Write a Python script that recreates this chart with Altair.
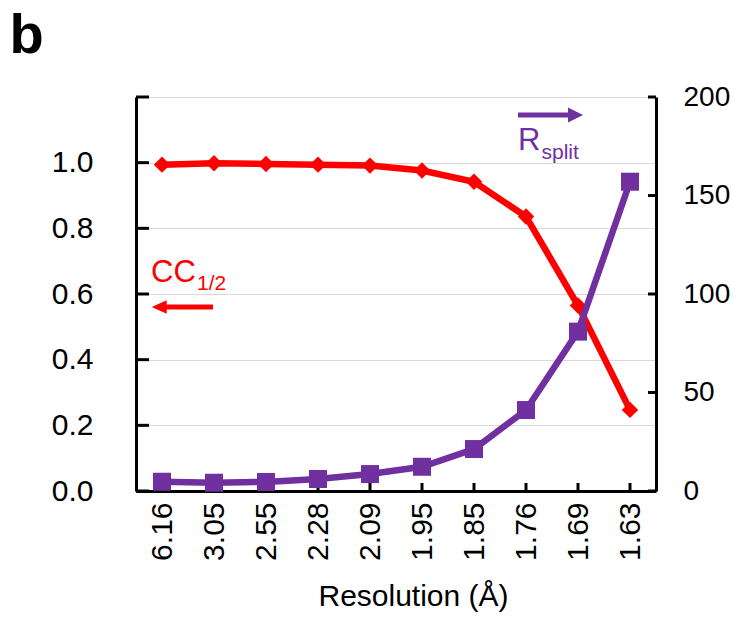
import altair as alt
import pandas as pd

# ---- data ----
resolution = ["6.16", "3.05", "2.55", "2.28", "2.09", "1.95", "1.85", "1.76", "1.69", "1.63"]
cc_half = [0.994, 0.998, 0.996, 0.994, 0.991, 0.976, 0.942, 0.836, 0.565, 0.247]
r_split = [4.7, 4.2, 4.6, 6.1, 8.6, 12.3, 21.3, 41.1, 80.9, 157.0]
left_ticks = [0.0, 0.2, 0.4, 0.6, 0.8, 1.0, 1.2]
right_ticks = [0, 50, 100, 150, 200]

RED = "#FF0000"
PURPLE = "#7030A0"
FONT = "Liberation Sans"
FS = 30
W, H = 520, 394

df = pd.DataFrame({"res": resolution, "cc": cc_half, "rs": r_split})
lt_df = pd.DataFrame({"v": left_ticks})
rt_df = pd.DataFrame({"v": right_ticks})
xt_df = pd.DataFrame({"res": resolution})

x_scale = alt.Scale(type="point", domain=resolution, padding=0.5)
x_axis = alt.Axis(
    title="Resolution (Å)", labelAngle=270, labelAlign="right", labelBaseline="middle",
    labelPadding=11, ticks=False, tickSize=0, domainColor="black", domainWidth=3,
    labelFontSize=FS, labelFont=FONT, labelColor="black", labelOverlap=False,
    titleFont=FONT, titleFontSize=FS, titleFontWeight="normal", titleColor="black",
    titleX=277, titleY=114, titleAlign="center", titleBaseline="alphabetic",
)
x_enc = alt.X("res:N", scale=x_scale, axis=x_axis, sort=resolution)

yl_scale = alt.Scale(domain=[0, 1.2], nice=False, zero=True)
yl_axis = alt.Axis(
    values=left_ticks, labelExpr="datum.value > 1.1 ? '' : format(datum.value, '.1f')",
    grid=True, gridColor="#d9d9d9", gridWidth=1, ticks=False, tickSize=0,
    domainColor="black", domainWidth=3, labelPadding=43, labelFontSize=FS,
    labelFont=FONT, labelColor="black", labelOverlap=False, title=None,
)
yr_scale = alt.Scale(domain=[0, 200], nice=False, zero=True)
yr_axis = alt.Axis(
    orient="right", values=right_ticks, format="d", grid=False, ticks=False, tickSize=0,
    domainColor="black", domainWidth=3, labelPadding=27, labelFontSize=28,
    labelFont=FONT, labelColor="black", labelOverlap=False, title=None,
)

# ---- CC1/2 (left axis) ----
red_line = alt.Chart(df).mark_line(color=RED, strokeWidth=6.5).encode(
    x=x_enc, y=alt.Y("cc:Q", scale=yl_scale, axis=yl_axis))
red_pts = alt.Chart(df).mark_point(shape="diamond", filled=True, size=270, color=RED, opacity=1).encode(
    x=x_enc, y=alt.Y("cc:Q", scale=yl_scale, axis=yl_axis))
left_tick_rules = alt.Chart(lt_df).mark_rule(color="black", strokeWidth=3).encode(
    y=alt.Y("v:Q", scale=yl_scale, axis=yl_axis), x=alt.value(0), x2=alt.value(13))
bottom_tick_rules = alt.Chart(xt_df).mark_rule(color="black", strokeWidth=3).encode(
    x=x_enc, y=alt.value(H), y2=alt.value(H - 8))
left = alt.layer(red_line, red_pts, left_tick_rules, bottom_tick_rules)

# ---- Rsplit (right axis) ----
pur_line = alt.Chart(df).mark_line(color=PURPLE, strokeWidth=6.5).encode(
    x=x_enc, y=alt.Y("rs:Q", scale=yr_scale, axis=yr_axis))
pur_pts = alt.Chart(df).mark_point(shape="square", filled=True, size=324, color=PURPLE, opacity=1).encode(
    x=x_enc, y=alt.Y("rs:Q", scale=yr_scale, axis=yr_axis))
right_tick_rules = alt.Chart(rt_df).mark_rule(color="black", strokeWidth=3).encode(
    y=alt.Y("v:Q", scale=yr_scale, axis=yr_axis), x=alt.value(W), x2=alt.value(W - 8))
right = alt.layer(pur_line, pur_pts, right_tick_rules)

# ---- annotations ----
one = alt.Data(values=[{"a": 1}])

def txt(s, x, y, size, color, weight="normal"):
    return alt.Chart(one).mark_text(
        text=s, align="left", baseline="alphabetic", font=FONT, fontSize=size,
        color=color, fontWeight=weight,
    ).encode(x=alt.value(x), y=alt.value(y))

def rule(x1, x2, y, color):
    return alt.Chart(one).mark_rule(color=color, strokeWidth=5).encode(
        x=alt.value(x1), x2=alt.value(x2), y=alt.value(y))

def head(shape, x, y, color):
    return alt.Chart(one).mark_point(shape=shape, size=225, filled=True, color=color, opacity=1).encode(
        x=alt.value(x), y=alt.value(y))

annots = [
    txt("b", -126.5, -44, 56, "black", "bold"),
    txt("CC", 15, 185, 31, RED),
    txt("1/2", 61, 192.5, 21, RED),
    rule(24, 77, 210, RED),
    head("M-1,0L1,-0.9L1,0.9Z", 23.2, 210, RED),
    txt("R", 382, 53, 31, PURPLE),
    txt("split", 405.5, 61.5, 21, PURPLE),
    rule(382, 438, 18, PURPLE),
    head("M1,0L-1,-1L-1,1Z", 439.5, 18, PURPLE),
]

chart = alt.layer(left, right, *annots).resolve_scale(y="independent").properties(
    width=W, height=H,
    autosize=alt.AutoSizeParams(type="none"),
    padding={"left": 136, "top": 97, "right": 77, "bottom": 127},
).configure_view(stroke=None).configure(background="white")

chart.save("out.html", embed_options={"renderer": "svg", "actions": False})
